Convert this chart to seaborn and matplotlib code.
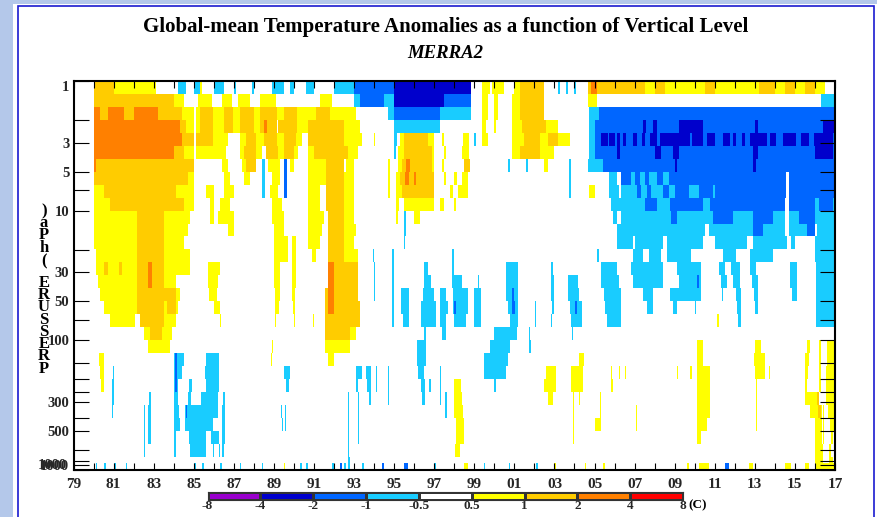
import numpy as np
import matplotlib
matplotlib.use("Agg")
import matplotlib.pyplot as plt
from matplotlib.colors import ListedColormap, BoundaryNorm
from matplotlib.patches import Rectangle
import seaborn as sns

# anomaly value of each colour class (C)
Z, Y, G, O = 0, 0.75, 1.5, 3
C, B, D = -0.75, -1.5, -3

BOUNDS = [-8, -4, -2, -1, -0.5, 0.5, 1, 2, 4, 8]
BOUND_LABELS = ["-8", "-4", "-2", "-1", "-0.5", "0.5", "1", "2", "4", "8"]
BAR_VALUES = [-6, -3, -1.5, -0.75, 0, 0.75, 1.5, 3, 6]
COLORS = ["#9900cc", "#0000cc", "#0066ff", "#19ccff", "#ffffff",
          "#ffff00", "#ffcc00", "#ff8000", "#ff0000"]

YEAR_START, YEAR_END = 79, 117
YEAR_TICK_LABELS = ["79", "81", "83", "85", "87", "89", "91", "93", "95", "97", "99",
                    "01", "03", "05", "07", "09", "11", "13", "15", "17"]
P_LABELLED = [1, 3, 5, 10, 30, 50, 100, 300, 500, 925]
P_LABELS = ["1", "3", "5", "10", "30", "50", "100", "300", "500", "1000"]
P_MINOR = [2, 7, 20, 70, 150, 200, 250, 400, 700, 850, 1000]

# (from year, to year, anomaly) per level, years counted from 1900, the rest is white
P0011 = [(80, 81, G), (81, 83.1, Y), (84.2, 84.6, C), (85, 85.3, C), (85.3, 85.4, Y), (86, 86.5, C), (87, 87.1, C),
         (87.9, 88, C), (88.9, 89.5, C), (89.8, 90, C), (90.6, 91, C), (92, 93, C), (93, 95, B), (95, 98.85, D),
         (99.4, 99.8, Y), (99.9, 100.5, Y), (101, 101.3, Y), (101.3, 102.5, G), (103.2, 103.3, C), (103.6, 103.7, C),
         (104, 104.1, C), (104.65, 107.5, G), (104.8, 105.1, O), (107.5, 116.5, Y), (108, 108.5, G), (110.5, 111, G),
         (113.2, 114, G), (114.5, 115, G), (115.5, 116, G)]
P0014 = [(80, 84, G), (84, 84.5, Y), (85.2, 85.9, Y), (86.4, 86.9, Y), (87.2, 87.8, Y), (88.3, 89.1, Y), (91.3, 91.9, Y),
         (93, 93.3, C), (93.3, 94.5, B), (94.5, 95, C), (95, 97.5, D), (97.5, 98.85, B), (99.4, 99.7, Y), (100, 100.2, Y),
         (100.9, 101.3, Y), (101.3, 102.5, G), (104.65, 105.1, Y), (116.3, 117, C)]
P0018 = [(80, 80.3, O), (80.3, 80.7, G), (80.7, 81.5, O), (81.5, 82, G), (82, 83.2, O), (83.2, 84.4, G), (84.4, 85, Y),
         (85.1, 85.3, Y), (85.3, 85.95, G), (85.95, 86.5, Y), (86.5, 86.95, G), (86.95, 87.3, Y), (87.3, 88, G), (88, 88.3, Y),
         (88.3, 89.15, G), (89.15, 89.5, Y), (89.5, 90.15, G), (90.15, 91.1, Y), (91.1, 91.8, G), (91.8, 93.1, Y), (94.7, 95, C),
         (95, 97.3, B), (97.3, 98.85, C), (99.4, 99.7, Y), (100, 100.2, Y), (100.9, 101.3, Y), (101.3, 102.5, G),
         (104.7, 105.2, C), (105.2, 117, B)]
P0022 = [(80, 84.3, O), (84.3, 84.6, G), (84.6, 85, Y), (85.1, 85.3, Y), (85.3, 85.95, G), (85.95, 86.5, Y), (86.5, 86.95, G),
         (86.95, 87.3, Y), (87.3, 88, G), (88, 88.3, Y), (88.3, 89.15, G), (88.5, 88.65, O), (89.2, 90.15, G), (90.15, 90.7, Y),
         (90.7, 92.5, G), (92.5, 93.3, Y), (95, 97.3, C), (99.4, 99.6, Y), (100, 100.1, Y), (100.9, 101.4, Y), (101.4, 102.6, G),
         (102.6, 103.2, Y), (104.7, 105, C), (105, 117, B), (109.2, 110.4, D), (107.4, 107.55, D), (107.9, 108.1, D),
         (113, 113.15, D), (116.4, 117, D)]
P0028 = [(80, 84.4, O), (84.4, 85, G), (85.1, 85.95, G), (85.95, 86.7, Y), (87.3, 87.6, Y), (87.6, 88.1, G), (88.1, 88.5, Y),
         (88.5, 89.15, G), (89.15, 89.5, Y), (89.5, 90.1, G), (90.1, 90.4, Y), (90.7, 92.5, G), (92.5, 93.4, Y), (94, 94.05, Y),
         (95, 95.15, C), (95.3, 97, Y), (95.5, 96.7, G), (97.4, 97.5, Y), (98.45, 98.75, Y), (99, 99.1, C), (99.4, 99.7, Y),
         (100.9, 101.5, Y), (101.5, 102.3, G), (102.3, 102.7, Y), (102.7, 103.2, G), (103.2, 103.8, Y), (104.7, 105, C),
         (105, 117, B), (105.3, 105.65, D), (105.7, 106, D), (106.1, 106.25, D), (106.4, 106.55, D), (106.9, 107.1, D),
         (107.35, 107.5, D), (107.75, 108.1, D), (108.25, 109.75, D), (109.85, 110.4, D), (110.6, 111, D), (111.4, 111.75, D),
         (111.9, 112.05, D), (112.35, 112.5, D), (112.75, 113.6, D), (113.75, 114.05, D), (114.4, 115.05, D), (115.3, 115.7, D),
         (115.95, 116.9, D)]
P0035 = [(80, 84, O), (84, 84.5, G), (84.5, 85, Y), (85.1, 86.6, Y), (87.3, 87.5, Y), (87.5, 88.1, G), (88.1, 88.4, Y),
         (88.6, 89.2, G), (89.2, 89.5, Y), (89.5, 90, G), (90, 90.2, Y), (90.7, 91, Y), (91, 92.7, G), (92.7, 93.2, Y),
         (95, 95.1, C), (95.2, 97, Y), (95.5, 96.9, G), (97.5, 97.6, Y), (98.4, 98.75, Y), (100.9, 101.3, Y), (101.3, 102.3, G),
         (102.3, 103, Y), (104.7, 105, C), (105, 117, B), (106.1, 106.25, D), (108, 108.3, D), (108.9, 109.2, D),
         (112.9, 113.15, D), (116, 116.9, D)]
P0045 = [(80, 80.1, O), (80.1, 85, G), (86.4, 86.7, Y), (87.4, 87.6, Y), (87.6, 88.1, G), (88.4, 88.55, C), (88.7, 89.3, Y),
         (89.5, 89.65, B), (89.8, 90, Y), (90.7, 91.6, Y), (91.6, 92.5, G), (92.6, 93, Y), (94.7, 94.8, Y), (95.2, 97, Y),
         (95.4, 96.9, G), (95.6, 95.8, O), (97.4, 97.5, Y), (98.5, 98.8, G), (100.7, 100.8, C), (101.6, 101.7, C),
         (102.5, 102.7, Y), (103.75, 103.85, C), (104.65, 105.4, C), (105.4, 117, B), (109, 109.1, D), (112.9, 113.05, D)]
P0056 = [(80, 84.7, G), (84.7, 85, Y), (86.5, 86.8, Y), (87.5, 87.8, Y), (88.4, 88.55, C), (88.9, 89.3, Y), (89.5, 89.65, B),
         (90.7, 91.6, Y), (91.6, 92.5, G), (92.5, 93, Y), (94.7, 94.8, Y), (95.1, 95.3, Y), (95.3, 97, G), (95.55, 95.75, O),
         (96, 96.1, O), (97.5, 97.6, Y), (98, 98.15, Y), (98.4, 98.7, Y), (103.75, 103.85, C), (105.7, 106.1, C), (106.3, 106.8, B),
         (106.8, 107, C), (107, 117, B), (107.25, 107.5, C), (107.7, 108.1, C), (108.4, 108.7, C), (114.55, 114.7, Z)]
P0071 = [(80, 80.5, Y), (80.5, 84.1, G), (84.1, 85, Y), (85.6, 86, Y), (86.5, 87, Y), (88.4, 88.55, C), (88.8, 89.2, Y),
         (89.5, 89.65, B), (90.7, 91.3, Y), (91.6, 92.5, G), (92.5, 93, Y), (94.7, 94.8, Y), (95.1, 97, Y), (95.4, 97, G),
         (97.8, 97.95, Y), (98.2, 98.7, Y), (103.75, 103.85, C), (104.7, 105, Y), (105.7, 106.2, C), (106.3, 107.1, C),
         (107.1, 117, B), (107.3, 107.6, C), (107.8, 108.4, C), (108.7, 109, C), (109.7, 110.2, C), (110.9, 111, C),
         (114.55, 114.7, Z)]
P0089 = [(80, 80.8, Y), (80.8, 84.5, G), (84.5, 85, Y), (85.8, 86, Y), (86.3, 86.8, Y), (88.9, 89.4, Y), (90.7, 91.3, Y),
         (91.6, 92.5, G), (92.5, 93, Y), (95.1, 95.25, Y), (95.5, 97, Y), (97.3, 97.5, Y), (98, 98.1, Y), (105.8, 117, C),
         (107.5, 108.1, B), (108.75, 110.4, B), (110.75, 116, B), (116.2, 116.9, B), (114.5, 114.7, Z)]
P0112 = [(80, 82.15, Y), (82.15, 83.5, G), (83.5, 84.8, Y), (85.8, 86, Y), (86.2, 87, Y), (88.9, 89.5, Y), (90.7, 91.5, Y),
         (91.7, 92.5, G), (92.5, 93, Y), (95.1, 95.2, Y), (95.5, 95.6, C), (96, 96.3, Y), (105.9, 117, C), (106.1, 106.3, Z),
         (108.8, 109.1, B), (110.9, 111.9, B), (112.9, 113.9, B), (115.2, 116, B), (114.5, 114.7, Z)]
P0141 = [(80, 82.15, Y), (82.15, 83.5, G), (83.5, 84.7, Y), (86.7, 87, Y), (89, 89.5, Y), (90.7, 91.4, Y), (91.7, 92.5, G),
         (92.5, 93.1, Y), (95.5, 95.6, C), (106.1, 110.5, C), (110.7, 114.5, C), (114.7, 116, C), (112.9, 113.4, B),
         (115.6, 116, B), (116.1, 117, C)]
P0178 = [(80, 82.15, Y), (82.15, 83.5, G), (83.5, 84.5, Y), (89, 89.7, Y), (89.9, 90.1, Y), (90.7, 91.3, Y), (91.7, 92.5, G),
         (92.5, 93, Y), (95.5, 95.55, C), (106.1, 108.4, C), (106.9, 107, Z), (108.6, 110.4, C), (111, 112.6, C),
         (112.9, 114.6, C), (114.8, 115, C), (116, 117, C)]
P0224 = [(80.1, 82.15, Y), (82.15, 83.5, G), (83.5, 84.8, Y), (89, 89.7, Y), (89.9, 90.1, Y), (90.9, 91.1, Y), (91.7, 92.5, G),
         (92.5, 93.2, Y), (93.95, 94, C), (94.9, 95, C), (97.9, 98, C), (105.1, 105.2, C), (106.9, 108.3, C), (107.4, 107.7, Z),
         (108.6, 109.8, C), (111.4, 112.05, C), (112.75, 113.9, C), (116, 117, C)]
P0282 = [(80.1, 82.15, Y), (80.5, 80.7, G), (81.25, 81.4, G), (82.15, 83.5, G), (82.7, 82.9, O), (83.5, 84.8, Y), (85.7, 86.3, Y),
         (89, 89.3, Y), (89.9, 90.1, Y), (91.7, 93.2, G), (91.7, 92, O), (94, 94.05, C), (94.9, 95, C), (96.5, 96.7, C),
         (97.9, 98, C), (100.6, 101.2, C), (102.85, 102.95, C), (105.3, 106.1, C), (106.8, 108.4, C), (109.1, 110.3, C),
         (111.2, 111.5, C), (111.8, 112.25, C), (112.75, 113.05, C), (114.75, 115.1, C), (116.05, 117, C)]
P0355 = [(80.2, 82.15, Y), (82.15, 83.5, G), (82.7, 82.9, O), (83.5, 84.1, Y), (85.7, 86.2, Y), (89, 89.3, Y), (89.9, 90.1, Y),
         (91.7, 93.2, G), (91.7, 92, O), (94, 94.05, C), (94.9, 95, C), (96.5, 96.85, C), (97.9, 98.4, C), (99.2, 99.25, C),
         (100.6, 101.2, C), (102.85, 103, C), (103.7, 104.2, C), (105.3, 106.2, C), (106.9, 108.4, C), (109.2, 110.3, C),
         (110.1, 110.2, B), (111.3, 111.6, C), (111.9, 112.25, C), (112.85, 113.15, C), (114.75, 115.1, C), (116.05, 117, C)]
P0447 = [(80.3, 82.15, Y), (82.15, 84.1, G), (84.1, 84.3, Y), (85.75, 86.15, Y), (89.05, 89.3, Y), (89.9, 90.05, Y),
         (91.55, 93.2, G), (91.7, 92, O), (94, 94.05, C), (94.9, 95, C), (95.35, 95.75, C), (96.45, 97, C), (97.3, 97.6, C),
         (97.95, 98.7, C), (99, 99.35, C), (100.6, 101.2, C), (100.9, 101, B), (102.85, 103, C), (103.7, 104.25, C),
         (105.45, 106.3, C), (107.4, 107.9, C), (108.75, 110.3, C), (111.35, 111.4, C), (112.05, 112.3, C), (112.95, 113.15, C),
         (114.85, 115.1, C), (116.05, 117, C)]
P0562 = [(80.5, 82.15, Y), (82.15, 83.5, G), (83.5, 83.65, Y), (83.65, 84.1, G), (84.1, 84.2, Y), (86, 86.3, Y), (89.05, 89.25, Y),
         (89.95, 90.05, Y), (91.55, 93.3, G), (91.7, 92, O), (94.9, 95, C), (95.35, 95.75, C), (96.35, 97.1, C), (97.3, 97.7, C),
         (97.95, 98.7, C), (98, 98.1, B), (99, 99.35, C), (100.7, 101.2, C), (100.9, 101.05, B), (102.05, 102.1, C),
         (102.9, 103, C), (103.8, 104.35, C), (104.05, 104.15, B), (105.5, 106.3, C), (107.6, 107.9, C), (108.9, 109.1, C),
         (110, 110.05, C), (112.1, 112.3, C), (113, 113.15, C), (116.05, 117, C)]
P0708 = [(80.8, 82.05, Y), (82.3, 83.5, G), (83.5, 84.1, Y), (86.3, 86.35, Y), (89.05, 89.1, Y), (90, 90.05, Y), (90.95, 91, Y),
         (91.55, 93.3, G), (94.9, 95, C), (95.45, 95.75, C), (96.35, 97.1, C), (97.3, 97.6, C), (98, 98.6, C), (99, 99.35, C),
         (100.8, 101.2, C), (102.05, 102.1, C), (102.85, 102.9, C), (103.85, 104.35, C), (105.6, 106.3, C), (111.1, 111.2, Y),
         (112.15, 112.3, C), (116.05, 117, C)]
P0891 = [(82.5, 83.9, Y), (82.8, 83.4, G), (91.55, 92.8, G), (92.8, 93.1, Y), (96.5, 96.6, C), (97.4, 97.6, C), (100, 101.15, C),
         (101.75, 101.8, C), (103.9, 103.95, C)]
P1122 = [(82.7, 83.8, Y), (88.9, 88.95, Y), (91.55, 92.8, Y), (96.15, 96.6, C), (99.8, 100.8, C), (101.75, 101.85, C),
         (110.1, 110.4, Y), (113, 113.3, Y), (115.6, 115.75, Y), (116.2, 116.3, Y), (116.6, 117, Y)]
P1413 = [(80.25, 80.5, Y), (84, 84.5, C), (84.05, 84.15, B), (85.6, 86.25, C), (88.85, 88.9, Y), (91.7, 92, Y), (96.15, 96.6, C),
         (99.5, 100.7, C), (104.25, 104.45, Y), (110.1, 110.4, Y), (112.95, 113.5, Y), (115.5, 115.7, Y), (116.2, 116.3, Y),
         (116.6, 117, Y)]
P1778 = [(80.3, 80.5, Y), (80.95, 81, C), (84, 84.4, C), (84.05, 84.15, B), (85.55, 86.25, C), (89.5, 89.8, C), (93.1, 93.4, C),
         (93.6, 93.85, C), (94.1, 94.15, C), (94.7, 94.75, C), (96.2, 96.5, C), (97.3, 97.35, C), (99.5, 100.6, C), (102.6, 103.1, Y),
         (103.85, 104.4, Y), (105.8, 105.85, Y), (106.2, 106.25, Y), (106.5, 106.55, Y), (109.1, 109.15, Y), (109.75, 109.85, Y),
         (110.1, 110.75, Y), (113, 113.5, Y), (113.7, 113.75, Y), (115.5, 115.65, Y), (116.2, 116.3, Y), (116.55, 117, Y)]
P2239 = [(80.35, 80.5, Y), (80.9, 81, C), (84, 84.2, C), (84.05, 84.15, B), (84.75, 84.9, C), (85.6, 86.25, C), (89.6, 89.75, C),
         (93.1, 93.2, C), (93.65, 93.85, C), (94.1, 94.15, C), (94.7, 94.75, C), (96.35, 96.55, C), (96.75, 96.85, C), (97.3, 97.35, C),
         (98, 98.35, Y), (100, 100.1, C), (102.5, 103.1, Y), (103.85, 104.4, Y), (105.8, 105.9, Y), (110.1, 110.75, Y),
         (113.05, 113.1, Y), (115.5, 115.6, Y), (116.2, 116.3, Y), (116.55, 117, Y)]
P2818 = [(80.9, 81, C), (82.75, 82.85, C), (84, 84.2, C), (84.7, 84.85, C), (85.35, 86.2, C), (86.45, 86.55, C), (92.7, 92.75, C),
         (93.2, 93.25, C), (93.75, 93.85, C), (94.7, 94.75, C), (96.4, 96.55, C), (97.3, 97.35, C), (97.55, 97.65, C), (98, 98.4, Y),
         (102.7, 102.95, Y), (103.95, 104, Y), (104.25, 104.3, Y), (105.25, 105.3, Y), (110.1, 110.75, Y), (113.05, 113.1, Y),
         (115.5, 116.2, Y), (116.1, 116.2, G), (116.55, 117, Y)]
P3548 = [(80.9, 80.95, C), (82.5, 82.55, C), (82.7, 82.85, C), (84, 84.25, C), (84.55, 86.2, C), (84.6, 84.65, B), (86.4, 86.55, C),
         (89.35, 89.4, C), (89.55, 89.6, C), (92.7, 92.75, C), (93.2, 93.25, C), (97.55, 97.65, C), (98, 98.45, Y), (103.95, 104, Y),
         (105.25, 105.3, Y), (107.05, 107.1, Y), (110.1, 110.75, Y), (113.05, 113.1, Y), (115.75, 116.35, Y), (116.15, 116.3, G),
         (116.4, 116.45, Y), (116.65, 117, Y)]
P4467 = [(82.5, 82.55, C), (82.7, 82.85, C), (84, 84.3, C), (84.55, 85.95, C), (86.4, 86.55, C), (89.4, 89.45, C), (89.55, 89.6, C),
         (92.7, 92.75, C), (93.2, 93.25, C), (98.1, 98.5, Y), (103.95, 104, Y), (105, 105.3, Y), (107.05, 107.1, Y), (110.1, 110.6, Y),
         (113.05, 113.1, Y), (116, 116.35, Y), (116.4, 116.45, Y), (116.75, 117, Y)]
P5623 = [(82.5, 82.55, C), (82.7, 82.85, C), (84, 84.1, C), (84.75, 85.6, C), (85.85, 86.25, C), (86.4, 86.55, C), (92.7, 92.75, C),
         (93.2, 93.25, C), (98.1, 98.5, Y), (103.95, 104, Y), (110.1, 110.3, Y), (116, 116.35, Y), (116.4, 116.45, Y), (116.8, 116.9, Y)]
P7079 = [(82.5, 82.55, C), (84, 84.1, C), (84.8, 85.6, C), (85.95, 86, C), (86.25, 86.3, C), (86.4, 86.5, C), (92.7, 92.75, C),
         (98.05, 98.3, Y), (116, 116.4, Y), (116.7, 116.8, Y)]
P8913 = [(92.7, 92.8, C), (116, 116.4, Y), (116.7, 116.9, Y)]
# thin layer right at the surface
P_SFC = [(80.1, 80.15, C), (80.5, 80.6, C), (81, 81.1, C), (81.6, 81.65, C), (85, 85.1, C), (85.4, 85.5, C), (86.3, 86.4, C),
         (87.3, 87.35, C), (88.4, 88.45, C), (89.5, 89.55, Y), (90.3, 90.4, C), (90.6, 90.7, C), (91.9, 92, C), (92.3, 92.4, B),
         (92.5, 92.6, C), (93.4, 93.5, C), (94.4, 94.5, B), (95.5, 95.7, B), (97, 97.1, C), (98.5, 98.7, Y), (99.5, 99.55, C),
         (100.75, 100.8, C), (102.1, 102.2, C), (103, 103.1, Y), (104.5, 104.55, Y), (105.4, 105.5, Y), (109.6, 109.7, Y),
         (110.2, 110.7, Y), (111.5, 111.7, B), (112.7, 112.9, Y), (114.5, 114.8, Y), (115.5, 115.7, Y), (116, 117, Y)]

LEVELS = [P0011, P0014, P0018, P0022, P0028, P0035, P0045, P0056, P0071, P0089,
          P0112, P0141, P0178, P0224, P0282, P0355, P0447, P0562, P0708, P0891,
          P1122, P1413, P1778, P2239, P2818, P3548, P4467, P5623, P7079, P8913]

W, H = 877, 517
STEP = 0.05  # years per column
DECADE = 0.05  # log10(p) per row


def paint(spans, n):
    row = np.zeros(n)
    for start, end, val in spans:
        i0 = int(round((start - YEAR_START) / STEP))
        i1 = int(round((end - YEAR_START) / STEP))
        row[i0:i1] = val
    return row


def box(x0, y0, x1, y1):
    return [x0 / W, 1 - y1 / H, (x1 - x0) / W, (y1 - y0) / H]


sns.set_theme(style="white")
plt.rcParams["font.family"] = ["Liberation Serif", "DejaVu Serif"]
plt.rcParams["font.weight"] = "bold"

n_col = int(round((YEAR_END - YEAR_START) / STEP))
grid = np.array([paint(sp, n_col) for sp in LEVELS])
grid = np.repeat(grid, 2, axis=0)
grid[-1] = np.where(paint(P_SFC, n_col) != 0, paint(P_SFC, n_col), grid[-1])

cmap = ListedColormap(COLORS)
norm = BoundaryNorm(BOUNDS, cmap.N)

fig = plt.figure(figsize=(W / 100, H / 100), dpi=100, facecolor="#b4c8ea")
fig.add_artist(Rectangle((13 / W, 0), 1 - 13 / W, 1 - 4 / H, transform=fig.transFigure,
                         facecolor="white", edgecolor="none", zorder=-2))
fig.add_artist(Rectangle((17.5 / W, -0.02), (873.5 - 17.5) / W, 1.02 - 5.5 / H, transform=fig.transFigure,
                         facecolor="white", edgecolor="#1a1ad0", linewidth=1.2, zorder=-1))

ax = fig.add_axes(box(73.5, 81, 835, 469.7))
sns.heatmap(grid, ax=ax, cmap=cmap, norm=norm, cbar=False, xticklabels=False, yticklabels=False)
ax.set_axisbelow(False)

labelled_years = np.arange(YEAR_START, YEAR_END + 1, 2)
all_years = np.arange(YEAR_START, YEAR_END + 1)
ax.set_xticks((labelled_years - YEAR_START) / STEP)
ax.set_xticklabels(YEAR_TICK_LABELS, fontsize=11, fontweight="bold")
ax.set_xticks((all_years - YEAR_START) / STEP, minor=True)
ax.set_yticks(np.log10(P_LABELLED) / DECADE)
ax.set_yticklabels(P_LABELS, fontsize=10.5, fontweight="bold")
ax.set_yticks(np.log10(P_MINOR) / DECADE, minor=True)
ax.tick_params(axis="x", which="both", direction="in", top=True, bottom=True, length=5, width=0.8, color="black", pad=6)
ax.tick_params(axis="y", which="both", direction="in", left=True, right=True, length=11, width=0.8, color="black", pad=3)
ax.get_yticklabels()[0].set_verticalalignment("top")
for s in ax.spines.values():
    s.set_visible(True)
    s.set_linewidth(1.5)
    s.set_color("black")
ax.annotate("1000", xy=(0, np.log10(925) / DECADE), xycoords=("axes fraction", "data"), xytext=(-4.5, 0),
            textcoords="offset points", ha="right", va="center", fontsize=10.5, fontweight="bold")

fig.text(446 / W, 1 - 27 / H, "Global-mean Temperature Anomalies as a function of Vertical Level",
         ha="center", va="center", fontsize=15, fontweight="bold", color="black")
fig.text(445 / W, 1 - 54 / H, "MERRA2", ha="center", va="center", fontsize=13.5, fontweight="bold",
         style="italic", color="black")

# stacked axis title, reads upward
for ch, y in zip("PRESSURE", [369, 356.5, 344.5, 332, 320, 307, 295, 283]):
    fig.text(44 / W, 1 - y / H, ch, ha="center", va="center", fontsize=12, fontweight="bold", color="black")
for ch, y in zip("(hPa)", [261, 248, 235, 223, 211]):
    fig.text(44 / W, 1 - y / H, ch, ha="center", va="center", fontsize=12, fontweight="bold", color="black")

cax = fig.add_axes(box(207.5, 492, 683, 499.7))
sns.heatmap([BAR_VALUES], ax=cax, cmap=cmap, norm=norm, cbar=False, xticklabels=False, yticklabels=False,
            linewidths=0.8, linecolor="#333333")
cax.set_xticks(np.arange(len(BOUNDS)))
cax.set_xticklabels(BOUND_LABELS, fontsize=9.5, fontweight="bold")
cax.tick_params(axis="x", length=0, pad=0.5)
for s in cax.spines.values():
    s.set_visible(True)
    s.set_linewidth(0.8)
    s.set_color("#333333")
fig.text(688 / W, 1 - 505 / H, "(C)", ha="left", va="center", fontsize=9.5, fontweight="bold", color="black")

fig.savefig("out.png", dpi=100, facecolor=fig.get_facecolor())
